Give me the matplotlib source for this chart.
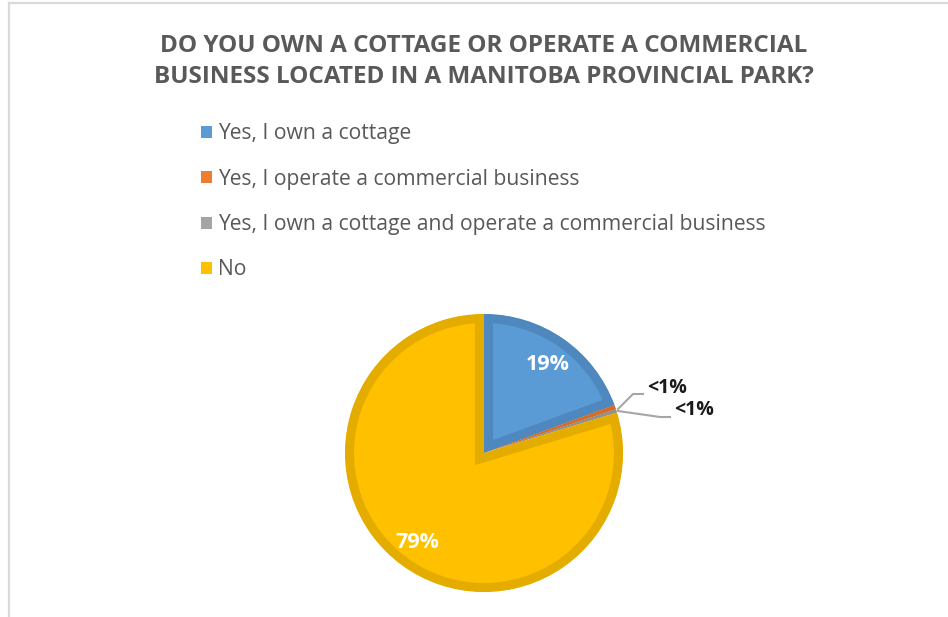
import matplotlib.pyplot as plt
from matplotlib.patches import Patch
from matplotlib.lines import Line2D

categories = [
    "Yes, I own a cottage",
    "Yes, I operate a commercial business",
    "Yes, I own a cottage and operate a commercial business",
    "No",
]
values = [19.4, 0.5, 0.4, 79.7]
value_labels = ["19%", "<1%", "<1%", "79%"]

fills = ["#5B9BD5", "#ED7D31", "#A5A5A5", "#FFC000"]
edges = ["#4E88BF", "#D46C26", "#909090", "#E5AC00"]

W, H = 948, 617


def py(y):
    # pixel row (from top) -> data y
    return H - y


fig = plt.figure(figsize=(9.48, 6.17), dpi=100)
ax = fig.add_axes([0, 0, 1, 1])

wedges, _ = ax.pie(values, colors=fills, startangle=90, counterclock=False,
                   center=(484, py(453)), radius=139)
# inner border: double width stroke clipped to the wedge itself
for w, ec in zip(wedges, edges):
    w.set_edgecolor(ec)
    w.set_linewidth(13)
    w.set_joinstyle("miter")
    w.set_clip_on(True)
    w.set_clip_path(w)

ax.set_xlim(0, W)
ax.set_ylim(0, H)
ax.axis("off")

# data labels
lab = dict(fontweight="bold", family="Open Sans")
ax.text(548, py(364), value_labels[0], ha="center", va="center",
        color="white", fontsize=15.5, **lab)
ax.text(417, py(543), value_labels[3], ha="center", va="center",
        color="white", fontsize=15.5, **lab)

ax.plot([618, 633, 643], [py(409), py(394), py(394)], color="#A6A6A6", lw=1.5)
ax.plot([618, 660, 670], [py(411), py(417), py(417)], color="#A6A6A6", lw=1.5)
ax.text(647, py(388), value_labels[1], ha="left", va="center",
        color="#1a1a1a", fontsize=14, **lab)
ax.text(674, py(410), value_labels[2], ha="left", va="center",
        color="#1a1a1a", fontsize=14, **lab)

# title
fig.text(484 / W, 1 - 61.5 / H,
         "DO YOU OWN A COTTAGE OR OPERATE A COMMERCIAL\n"
         "BUSINESS LOCATED IN A MANITOBA PROVINCIAL PARK?",
         ha="center", va="center", color="#595959", fontsize=17.5,
         fontweight="bold", family="Open Sans", linespacing=1.42)

# legend
handles = [Patch(facecolor=c, edgecolor="none") for c in fills]
ax.legend(handles, categories, loc="upper left",
          bbox_to_anchor=(201 / W, 1 - 123.5 / H), frameon=False,
          prop={"family": "Open Sans", "size": 15.2}, labelcolor="#595959",
          handlelength=0.5, handleheight=0.5, handletextpad=0.3,
          labelspacing=1.15, borderaxespad=0, borderpad=0)

# chart area frame (left and top edges visible)
fig.add_artist(Line2D([9 / W, 9 / W], [0, 1 - 3 / H], transform=fig.transFigure,
                      color="#d9d9d9", lw=1.6))
fig.add_artist(Line2D([9 / W, 1], [1 - 3 / H, 1 - 3 / H], transform=fig.transFigure,
                      color="#d9d9d9", lw=1.6))

fig.savefig("out.png", dpi=100)
